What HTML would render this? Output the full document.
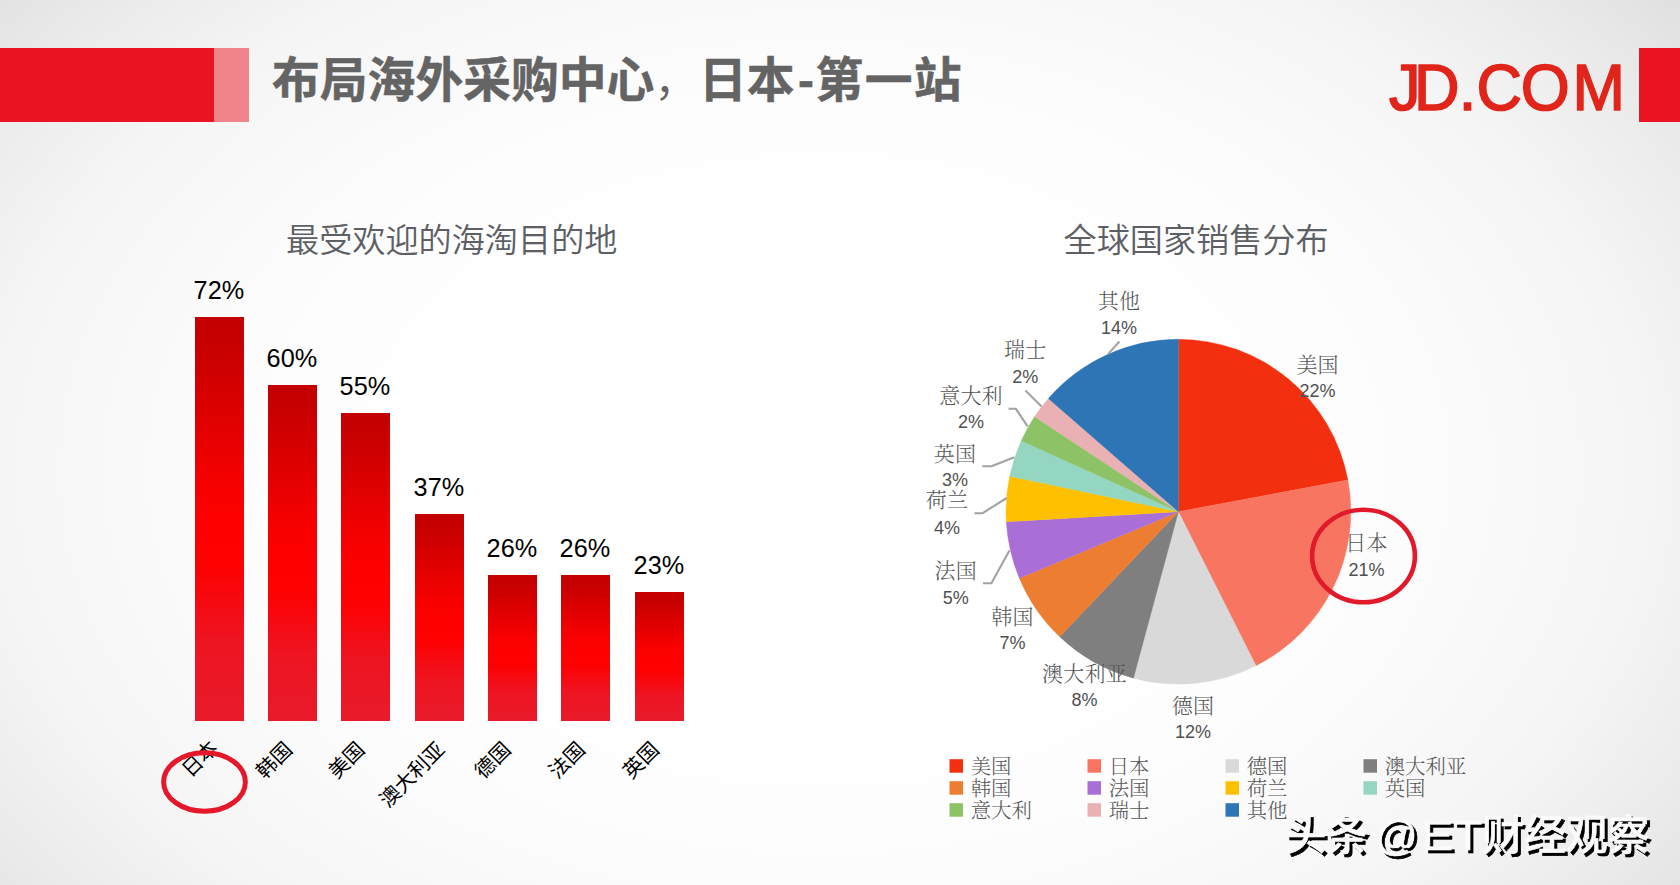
<!DOCTYPE html>
<html lang="zh-CN">
<head>
<meta charset="utf-8">
<title>布局海外采购中心，日本-第一站</title>
<style>
html,body{margin:0;padding:0;}
body{width:1680px;height:885px;overflow:hidden;background:#f4f4f4;font-family:'Liberation Sans','Noto Sans CJK SC',sans-serif;}
#slide{position:relative;width:1680px;height:885px;overflow:hidden;
 background:radial-gradient(ellipse 1100px 750px at 820px 470px,#ffffff 0%,#ffffff 35%,#fcfcfc 55%,#f5f5f5 75%,#ececec 87%,#e5e5e5 95%,#e0e0e0 100%);
}
svg{position:absolute;left:0;top:0;}
.t-title{font-family:'Liberation Sans','Noto Sans CJK SC',sans-serif;font-weight:700;font-size:47.8px;fill:#646464;stroke:#646464;stroke-width:0.5px;}
.t-logo{font-family:'Liberation Sans','Noto Sans CJK SC',sans-serif;font-weight:400;font-size:65.6px;fill:#e1251b;stroke:#e1251b;stroke-width:1.7px;stroke-linejoin:round;}
.t-ctitle{font-family:'Liberation Sans','Noto Sans CJK SC',sans-serif;font-weight:350;font-size:33.15px;fill:#5c6064;}
.t-val{font-family:'Liberation Sans','Noto Sans CJK SC',sans-serif;font-size:26.6px;fill:#000;text-anchor:middle;}
.t-cat{font-family:'Liberation Sans','Noto Sans CJK SC',sans-serif;font-size:20.4px;fill:#000;text-anchor:end;}
.t-pl{font-family:'Liberation Serif','Noto Serif CJK SC',serif;font-weight:300;font-size:21px;letter-spacing:0.2px;fill:#555;text-anchor:middle;}
.t-pn{font-family:'Liberation Sans','Noto Sans CJK SC',sans-serif;font-size:18px;fill:#505050;text-anchor:middle;}
.t-lg{font-family:'Liberation Serif','Noto Serif CJK SC',serif;font-weight:300;font-size:20.4px;letter-spacing:0px;fill:#555;}
.lead{fill:none;stroke:#a3a3a3;stroke-width:2.1px;stroke-linejoin:round;}
.t-wm{font-family:'Liberation Sans','Noto Sans CJK SC',sans-serif;font-weight:500;font-size:41.8px;filter:drop-shadow(3px 3px 0 #000);}
</style>
</head>
<body>
<div id="slide">
<svg width="1680" height="885" viewBox="0 0 1680 885">
<defs>
<linearGradient id="bar" x1="0" y1="0" x2="0" y2="1">
<stop offset="0" stop-color="#c40000"/>
<stop offset="0.08" stop-color="#c80000"/>
<stop offset="0.44" stop-color="#fa0000"/>
<stop offset="0.52" stop-color="#ff0000"/>
<stop offset="0.62" stop-color="#fd0103"/>
<stop offset="0.8" stop-color="#ee1421"/>
<stop offset="1" stop-color="#e81b2b"/>
</linearGradient>
</defs>

<rect x="0" y="48" width="214" height="74" fill="#eb1422"/>
<rect x="214" y="48" width="35" height="74" fill="#f0848b"/>
<rect x="1639" y="48" width="41" height="74" fill="#eb1422"/>
<text class="t-title" x="272" y="97.3">布局海外采购中心<tspan font-weight="400" stroke="none" font-size="42" dy="-1">，</tspan><tspan dx="2.6" dy="1">日本</tspan><tspan dx="3.5">-</tspan><tspan dx="1.5" letter-spacing="1.3">第一站</tspan></text>
<text class="t-logo" transform="scale(0.96,1)" x="1446.9 1472.9 1519.6 1538.1 1584.1 1637.9" y="110">JD.COM</text>
<text class="t-ctitle" x="286" y="251.8">最受欢迎的海淘目的地</text>
<text class="t-ctitle" x="1063.5" y="251.8">全球国家销售分布</text>
<rect x="195" y="317" width="49" height="404" fill="url(#bar)"/>
<text class="t-val" x="218.9" y="298.7" textLength="50.6" lengthAdjust="spacingAndGlyphs">72%</text>
<text class="t-cat" transform="translate(214.3,744.5) rotate(-45)" x="0" y="7">日本</text>
<rect x="268" y="385" width="49" height="336" fill="url(#bar)"/>
<text class="t-val" x="291.9" y="366.7" textLength="50.6" lengthAdjust="spacingAndGlyphs">60%</text>
<text class="t-cat" transform="translate(288.6,746.0) rotate(-45)" x="0" y="7">韩国</text>
<rect x="341" y="413" width="49" height="308" fill="url(#bar)"/>
<text class="t-val" x="364.9" y="394.7" textLength="50.6" lengthAdjust="spacingAndGlyphs">55%</text>
<text class="t-cat" transform="translate(360.9,746.0) rotate(-45)" x="0" y="7">美国</text>
<rect x="415" y="514" width="49" height="207" fill="url(#bar)"/>
<text class="t-val" x="438.9" y="495.7" textLength="50.6" lengthAdjust="spacingAndGlyphs">37%</text>
<text class="t-cat" transform="translate(441.0,746.0) rotate(-45)" x="0" y="7">澳大利亚</text>
<rect x="488" y="575" width="49" height="146" fill="url(#bar)"/>
<text class="t-val" x="511.9" y="556.7" textLength="50.6" lengthAdjust="spacingAndGlyphs">26%</text>
<text class="t-cat" transform="translate(507.2,746.0) rotate(-45)" x="0" y="7">德国</text>
<rect x="561" y="575" width="49" height="146" fill="url(#bar)"/>
<text class="t-val" x="584.9" y="556.7" textLength="50.6" lengthAdjust="spacingAndGlyphs">26%</text>
<text class="t-cat" transform="translate(581.5,746.0) rotate(-45)" x="0" y="7">法国</text>
<rect x="635" y="592" width="49" height="129" fill="url(#bar)"/>
<text class="t-val" x="658.9" y="573.7" textLength="50.6" lengthAdjust="spacingAndGlyphs">23%</text>
<text class="t-cat" transform="translate(655.4,746.0) rotate(-45)" x="0" y="7">英国</text>
<ellipse cx="204.5" cy="782" rx="40.9" ry="29.2" fill="none" stroke="#e5182b" stroke-width="5"/>
<path d="M1178.4,511.7 L1178.40,339.30 A172.4,172.4 0 0 1 1347.87,480.03 Z" fill="#f2300f" stroke="#f2300f" stroke-width="0.4"/>
<path d="M1178.4,511.7 L1347.87,480.03 A172.4,172.4 0 0 1 1255.89,665.70 Z" fill="#f87661" stroke="#f87661" stroke-width="0.4"/>
<path d="M1178.4,511.7 L1255.89,665.70 A172.4,172.4 0 0 1 1133.43,678.13 Z" fill="#d9d9d9" stroke="#d9d9d9" stroke-width="0.4"/>
<path d="M1178.4,511.7 L1133.43,678.13 A172.4,172.4 0 0 1 1059.68,636.70 Z" fill="#7f7f7f" stroke="#7f7f7f" stroke-width="0.4"/>
<path d="M1178.4,511.7 L1059.68,636.70 A172.4,172.4 0 0 1 1019.33,578.17 Z" fill="#ed7d31" stroke="#ed7d31" stroke-width="0.4"/>
<path d="M1178.4,511.7 L1019.33,578.17 A172.4,172.4 0 0 1 1006.29,521.77 Z" fill="#a96fd6" stroke="#a96fd6" stroke-width="0.4"/>
<path d="M1178.4,511.7 L1006.29,521.77 A172.4,172.4 0 0 1 1009.69,476.21 Z" fill="#ffc000" stroke="#ffc000" stroke-width="0.4"/>
<path d="M1178.4,511.7 L1009.69,476.21 A172.4,172.4 0 0 1 1021.32,440.66 Z" fill="#94d6c1" stroke="#94d6c1" stroke-width="0.4"/>
<path d="M1178.4,511.7 L1021.32,440.66 A172.4,172.4 0 0 1 1034.60,416.60 Z" fill="#8dc267" stroke="#8dc267" stroke-width="0.4"/>
<path d="M1178.4,511.7 L1034.60,416.60 A172.4,172.4 0 0 1 1048.37,398.50 Z" fill="#e9b1b4" stroke="#e9b1b4" stroke-width="0.4"/>
<path d="M1178.4,511.7 L1048.37,398.50 A172.4,172.4 0 0 1 1178.40,339.30 Z" fill="#2e75b6" stroke="#2e75b6" stroke-width="0.4"/>
<polyline class="lead" points="1119.4,341.5 1108,354.1"/>
<polyline class="lead" points="1025.4,390.6 1041.5,406.5"/>
<polyline class="lead" points="1008.6,408.7 1015.8,408.7 1027.6,426.4"/>
<polyline class="lead" points="982.3,466.3 991.4,466.3 1014.4,457.3"/>
<polyline class="lead" points="974.4,513.3 982.3,513.3 1006.7,498"/>
<polyline class="lead" points="983,583.2 991.4,583.2 1009.4,550.6"/>
<text class="t-pl" x="1317.6" y="371.9">美国</text>
<text class="t-pn" x="1317.6" y="396.9">22%</text>
<text class="t-pl" x="1366.5" y="549.8">日本</text>
<text class="t-pn" x="1366.5" y="575.7">21%</text>
<text class="t-pl" x="1193" y="713.0">德国</text>
<text class="t-pn" x="1193" y="737.9">12%</text>
<text class="t-pl" x="1084.5" y="680.8">澳大利亚</text>
<text class="t-pn" x="1084.5" y="705.7">8%</text>
<text class="t-pl" x="1012.5" y="623.5">韩国</text>
<text class="t-pn" x="1012.5" y="648.7">7%</text>
<text class="t-pl" x="955.7" y="577.6">法国</text>
<text class="t-pn" x="955.7" y="603.5">5%</text>
<text class="t-pl" x="947" y="507.3">荷兰</text>
<text class="t-pn" x="947" y="533.7">4%</text>
<text class="t-pl" x="955" y="461.0">英国</text>
<text class="t-pn" x="955" y="486">3%</text>
<text class="t-pl" x="971" y="403.0">意大利</text>
<text class="t-pn" x="971" y="428.2">2%</text>
<text class="t-pl" x="1025.2" y="357.3">瑞士</text>
<text class="t-pn" x="1025.2" y="383">2%</text>
<text class="t-pl" x="1119" y="307.8">其他</text>
<text class="t-pn" x="1119" y="333.9">14%</text>
<ellipse cx="1363.5" cy="556" rx="51.4" ry="46.2" fill="none" stroke="#e1192a" stroke-width="4.6"/>
<rect x="949.5" y="759.2" width="13.5" height="13.5" fill="#f2300f"/>
<text class="t-lg" x="970.7" y="773.6">美国</text>
<rect x="1087.5" y="759.2" width="13.5" height="13.5" fill="#f87661"/>
<text class="t-lg" x="1108.7" y="773.6">日本</text>
<rect x="1225.5" y="759.2" width="13.5" height="13.5" fill="#d9d9d9"/>
<text class="t-lg" x="1246.7" y="773.6">德国</text>
<rect x="1363.5" y="759.2" width="13.5" height="13.5" fill="#7f7f7f"/>
<text class="t-lg" x="1384.7" y="773.6">澳大利亚</text>
<rect x="949.5" y="781.2" width="13.5" height="13.5" fill="#ed7d31"/>
<text class="t-lg" x="970.7" y="795.6">韩国</text>
<rect x="1087.5" y="781.2" width="13.5" height="13.5" fill="#a96fd6"/>
<text class="t-lg" x="1108.7" y="795.6">法国</text>
<rect x="1225.5" y="781.2" width="13.5" height="13.5" fill="#ffc000"/>
<text class="t-lg" x="1246.7" y="795.6">荷兰</text>
<rect x="1363.5" y="781.2" width="13.5" height="13.5" fill="#94d6c1"/>
<text class="t-lg" x="1384.7" y="795.6">英国</text>
<rect x="949.5" y="803.2" width="13.5" height="13.5" fill="#8dc267"/>
<text class="t-lg" x="970.7" y="817.6">意大利</text>
<rect x="1087.5" y="803.2" width="13.5" height="13.5" fill="#e9b1b4"/>
<text class="t-lg" x="1108.7" y="817.6">瑞士</text>
<rect x="1225.5" y="803.2" width="13.5" height="13.5" fill="#2e75b6"/>
<text class="t-lg" x="1246.7" y="817.6">其他</text>
<text class="t-wm" x="1284.5" y="849.5" fill="#fbfbfb" stroke="#fbfbfb" stroke-width="0.5">头条<tspan dx="-4.5"> @</tspan><tspan x="1421.5" textLength="61" lengthAdjust="spacingAndGlyphs">ET</tspan><tspan x="1482.3">财经观察</tspan></text>
</svg>
</div>
</body>
</html>
